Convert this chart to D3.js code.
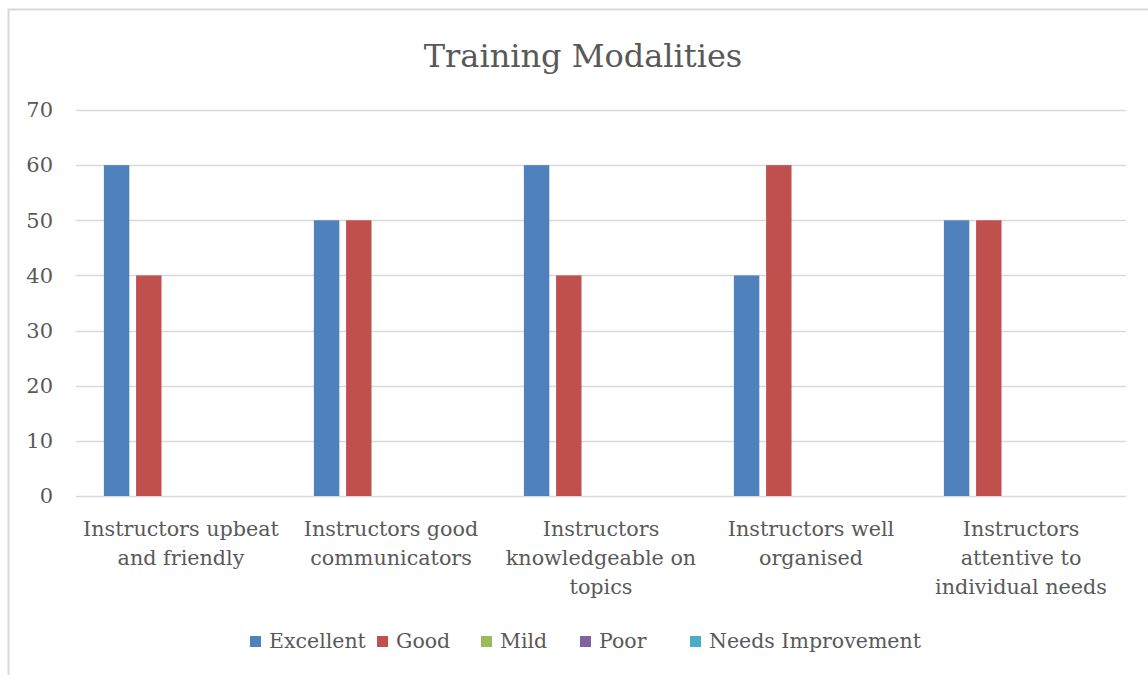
<!DOCTYPE html>
<html>
<head>
<meta charset="utf-8">
<script src="https://cdn.jsdelivr.net/npm/d3@7"></script>
<style>
  body { margin: 0; background: #fff; }
  text { font-family: "DejaVu Serif", serif; fill: #595959; }
</style>
</head>
<body>
<svg id="chart" width="1148" height="675"></svg>
<script>
// Data
var categories = [
  'Instructors upbeat and friendly',
  'Instructors good communicators',
  'Instructors knowledgeable on topics',
  'Instructors well organised',
  'Instructors attentive to individual needs'
];
var categoryLines = [
  ['Instructors upbeat', 'and friendly'],
  ['Instructors good', 'communicators'],
  ['Instructors', 'knowledgeable on', 'topics'],
  ['Instructors well', 'organised'],
  ['Instructors', 'attentive to', 'individual needs']
];
var seriesNames = ['Excellent', 'Good', 'Mild', 'Poor', 'Needs Improvement'];
var excellent = [60, 50, 60, 40, 50];
var good = [40, 50, 40, 60, 50];
var mild = [0, 0, 0, 0, 0];
var poor = [0, 0, 0, 0, 0];
var needsImprovement = [0, 0, 0, 0, 0];
var yTicks = [0, 10, 20, 30, 40, 50, 60, 70];

var colors = ['#4F81BD', '#C0504D', '#9BBB59', '#8064A2', '#4BACC6'];
var seriesValues = [excellent, good, mild, poor, needsImprovement];

var svg = d3.select('#chart');

// chart frame (only top and left edges visible in the picture)
svg.append('rect')
  .attr('x', 8.5).attr('y', 9.5)
  .attr('width', 1200).attr('height', 720)
  .attr('fill', 'none')
  .attr('stroke', '#d9d9d9')
  .attr('stroke-width', 2);

var margin = { left: 76, right: 22, top: 110, bottom: 179 };
var width = 1148, height = 675;

var x0 = d3.scaleBand()
  .domain(categories)
  .range([margin.left, width - margin.right])
  .padding(0);

var x1 = d3.scaleBand()
  .domain(seriesNames)
  .range([0, x0.bandwidth()])
  .paddingInner(0.21)
  .paddingOuter(0.866);

var y = d3.scaleLinear()
  .domain([0, 70])
  .range([height - margin.bottom, margin.top]);

// gridlines
svg.append('g')
  .selectAll('line')
  .data(yTicks)
  .enter()
  .append('line')
  .attr('x1', margin.left)
  .attr('x2', width - margin.right)
  .attr('y1', function(d) { return Math.round(y(d)) + 0.5; })
  .attr('y2', function(d) { return Math.round(y(d)) + 0.5; })
  .attr('stroke', '#d9d9d9')
  .attr('stroke-width', 1.3);

// y axis labels
var yAxis = d3.axisLeft(y).tickValues(yTicks).tickSize(0).tickPadding(23);
var yg = svg.append('g')
  .attr('transform', 'translate(' + margin.left + ',0)')
  .call(yAxis);
yg.select('.domain').remove();
yg.selectAll('text')
  .style('font-size', '21px')
  .attr('fill', '#595959');

// bars
var groups = svg.append('g')
  .selectAll('g')
  .data(categories)
  .enter()
  .append('g')
  .attr('transform', function(d) { return 'translate(' + x0(d) + ',0)'; });

groups.selectAll('rect')
  .data(function(d, i) {
    return seriesNames.map(function(s, j) {
      return { series: s, value: seriesValues[j][i], color: colors[j] };
    });
  })
  .enter()
  .append('rect')
  .attr('x', function(d) { return x1(d.series); })
  .attr('y', function(d) { return y(d.value); })
  .attr('width', x1.bandwidth())
  .attr('height', function(d) { return y(0) - y(d.value); })
  .attr('fill', function(d) { return d.color; });

// category labels
var xlab = svg.append('g')
  .selectAll('text')
  .data(categories)
  .enter()
  .append('text')
  .attr('text-anchor', 'middle')
  .attr('x', function(d) { return x0(d) + x0.bandwidth() / 2; })
  .attr('y', 536)
  .style('font-size', '20.7px');

xlab.selectAll('tspan')
  .data(function(d, i) { return categoryLines[i]; })
  .enter()
  .append('tspan')
  .attr('x', function() { return d3.select(this.parentNode).attr('x'); })
  .attr('dy', function(d, i) { return i === 0 ? 0 : 29; })
  .text(function(d) { return d; });

// title
svg.append('text')
  .attr('x', 583)
  .attr('y', 67)
  .attr('text-anchor', 'middle')
  .style('font-size', '32px')
  .text('Training Modalities');

// legend
var legendX = [250, 377, 481, 580, 690];
var legend = svg.append('g')
  .selectAll('g')
  .data(seriesNames)
  .enter()
  .append('g')
  .attr('transform', function(d, i) { return 'translate(' + legendX[i] + ',636)'; });

legend.append('rect')
  .attr('width', 11)
  .attr('height', 11)
  .attr('fill', function(d, i) { return colors[i]; });

legend.append('text')
  .attr('x', 19)
  .attr('y', 12)
  .style('font-size', '20.5px')
  .text(function(d) { return d; });
</script>
</body>
</html>
